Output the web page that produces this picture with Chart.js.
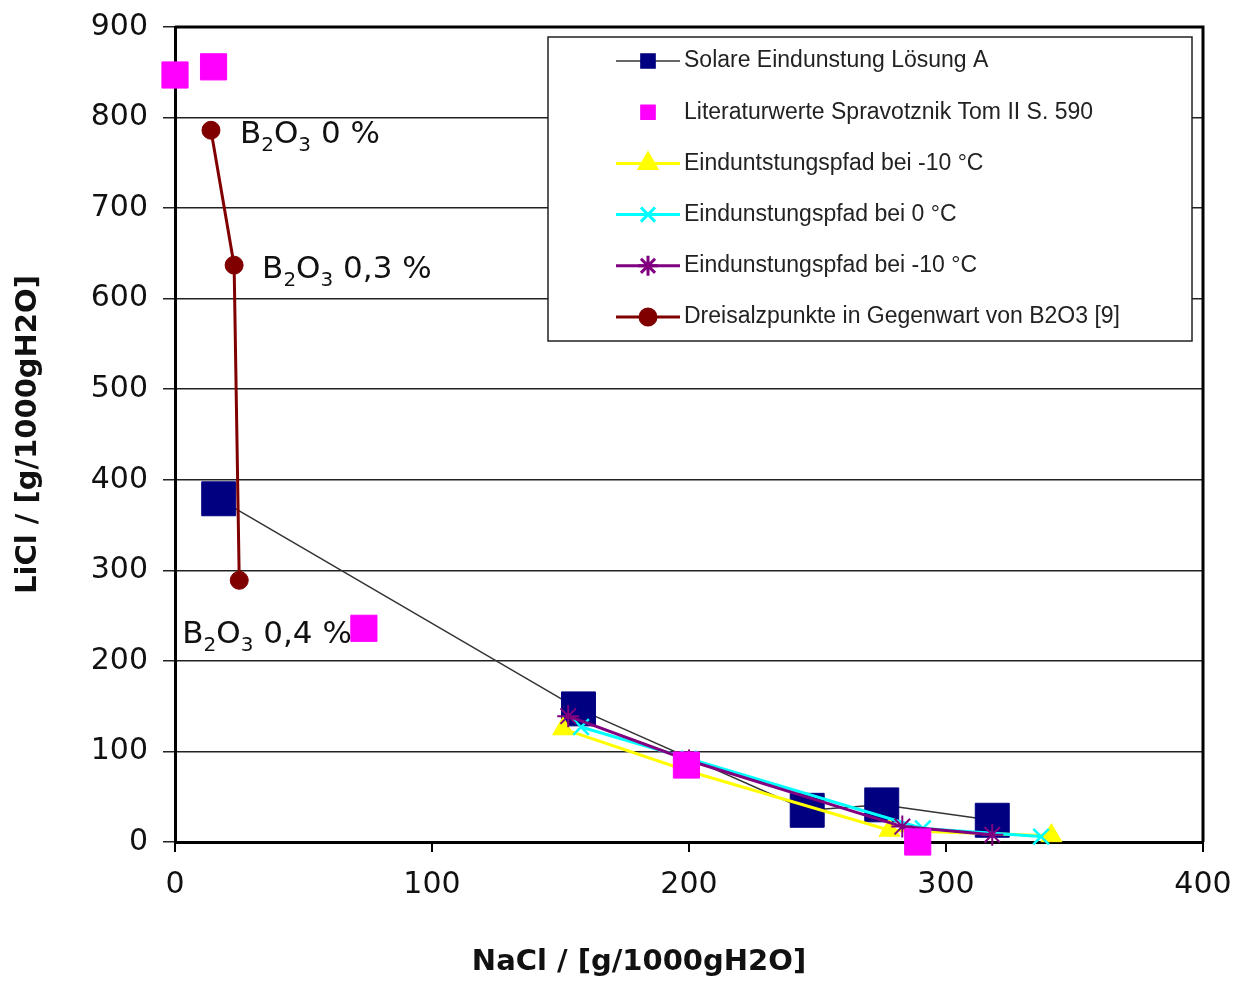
<!DOCTYPE html>
<html>
<head>
<meta charset="utf-8">
<script src="https://cdn.jsdelivr.net/npm/chart.js@4.4.0/dist/chart.umd.min.js"></script>
<style>
  html, body { margin: 0; padding: 0; background: #fff; }
  #wrap { width: 1248px; height: 983px; }
</style>
</head>
<body>
<div id="wrap"><canvas id="chart" width="1248" height="983"></canvas></div>
<script>
// values: NaCl (x) / LiCl (y), g per 1000 g H2O
const solareNaCl = [17, 157, 246, 275, 318];
const solareLiCl = [379, 147, 35, 41, 24];
const litNaCl = [0, 15, 73.5, 199, 289];
const litLiCl = [847, 856, 236, 85, 0];
const pfadMinus10aNaCl = [151, 199, 278, 341];
const pfadMinus10aLiCl = [125, 79, 13, 7];
const pfad0NaCl = [158, 200, 291, 337];
const pfad0LiCl = [127, 92, 15, 6];
const pfadMinus10bNaCl = [153, 200, 283, 318];
const pfadMinus10bLiCl = [139, 90, 17, 8];
const dreisalzNaCl = [14, 23, 25];
const dreisalzLiCl = [786, 637, 289];
const dreisalzLabels = ['0 %', '0,3 %', '0,4 %'];

const xTicks = [0, 100, 200, 300, 400];
const yTicks = [0, 100, 200, 300, 400, 500, 600, 700, 800, 900];
const xTitle = 'NaCl / [g/1000gH2O]';
const yTitle = 'LiCl / [g/1000gH2O]';

const toPoints = (xs, ys) => xs.map((v, i) => ({ x: v, y: ys[i] }));

const FONT = '"DejaVu Sans", sans-serif';

// frame on top and right of the plot area
const plotFrame = {
  id: 'plotFrame',
  beforeDatasetsDraw(chart) {
    const { ctx, chartArea: a } = chart;
    ctx.save();
    ctx.strokeStyle = '#000';
    ctx.lineWidth = 3;
    ctx.beginPath();
    ctx.moveTo(a.left, a.top);
    ctx.lineTo(a.right, a.top);
    ctx.lineTo(a.right, a.bottom);
    ctx.stroke();
    ctx.restore();
  },
};

// x axis title sits a little left of the plot centre in the original
const xTitlePlugin = {
  id: 'xTitlePlugin',
  afterDraw(chart) {
    const { ctx, chartArea: a } = chart;
    ctx.save();
    ctx.fillStyle = '#111';
    ctx.font = 'bold 29px ' + FONT;
    ctx.textAlign = 'center';
    ctx.textBaseline = 'middle';
    ctx.fillText(xTitle, (a.left + a.right) / 2 - 50, a.bottom + 120);
    ctx.restore();
  },
};

// B2O3 labels next to the Dreisalzpunkte
const b2o3Labels = {
  id: 'b2o3Labels',
  afterDatasetsDraw(chart) {
    const { ctx, scales: { x, y } } = chart;
    const offsets = [[29, 13], [28, 13], [-57, 63]];
    ctx.save();
    ctx.fillStyle = '#111';
    ctx.textBaseline = 'alphabetic';
    ctx.textAlign = 'left';
    dreisalzLabels.forEach((lab, i) => {
      let px = x.getPixelForValue(dreisalzNaCl[i]) + offsets[i][0];
      const py = y.getPixelForValue(dreisalzLiCl[i]) + offsets[i][1];
      const parts = [['B', false], ['2', true], ['O', false], ['3', true], [' ' + lab, false]];
      parts.forEach(([t, sub]) => {
        ctx.font = (sub ? 20 : 31) + 'px ' + FONT;
        ctx.fillText(t, px, py + (sub ? 8 : 0));
        px += ctx.measureText(t).width;
      });
    });
    ctx.restore();
  },
};

// legend box inside the plot, like the spreadsheet original
const legendBox = {
  id: 'legendBox',
  afterDraw(chart) {
    const { ctx, chartArea: a } = chart;
    const w = 644, h = 304;
    const x0 = a.right - 11 - w, y0 = a.top + 10;
    ctx.save();
    ctx.fillStyle = '#fff';
    ctx.fillRect(x0, y0, w, h);
    ctx.strokeStyle = '#222';
    ctx.lineWidth = 1.5;
    ctx.strokeRect(x0, y0, w, h);
    chart.data.datasets.forEach((ds, i) => {
      const cy = y0 + 24 + i * 51.2;
      const mx = x0 + 100;
      if (ds.showLine) {
        ctx.strokeStyle = ds.borderColor;
        ctx.lineWidth = ds.borderWidth;
        ctx.beginPath();
        ctx.moveTo(x0 + 68, cy);
        ctx.lineTo(x0 + 132, cy);
        ctx.stroke();
      }
      ctx.fillStyle = ds.pointBackgroundColor;
      ctx.strokeStyle = ds.pointBorderColor;
      Chart.helpers.drawPoint(ctx, {
        pointStyle: ds.pointStyle,
        radius: ds.legendRadius,
        borderWidth: ds.pointBorderWidth,
        rotation: 0,
      }, mx, cy);
      ctx.fillStyle = '#222';
      ctx.font = '23px "Liberation Sans", Arial, sans-serif';
      ctx.textBaseline = 'middle';
      ctx.fillText(ds.label, x0 + 136, cy);
    });
    ctx.restore();
  },
};

const ctx = document.getElementById('chart').getContext('2d');
new Chart(ctx, {
  type: 'scatter',
  data: {
    datasets: [
      {
        label: 'Solare Eindunstung Lösung A',
        data: toPoints(solareNaCl, solareLiCl),
        showLine: true,
        borderColor: '#333',
        borderWidth: 1.5,
        pointStyle: 'rect',
        pointRadius: 24,
        legendRadius: 10,
        pointBackgroundColor: '#000080',
        pointBorderColor: '#000080',
        pointBorderWidth: 1,
        order: 6,
      },
      {
        label: 'Literaturwerte Spravotznik Tom II S. 590',
        data: toPoints(litNaCl, litLiCl),
        showLine: false,
        borderColor: '#ff00ff',
        borderWidth: 0,
        pointStyle: 'rect',
        pointRadius: 18.5,
        legendRadius: 10,
        pointBackgroundColor: '#ff00ff',
        pointBorderColor: '#ff00ff',
        pointBorderWidth: 1,
        order: 1,
      },
      {
        label: 'Einduntstungspfad bei -10 °C',
        data: toPoints(pfadMinus10aNaCl, pfadMinus10aLiCl),
        showLine: true,
        borderColor: '#ffff00',
        borderWidth: 3,
        pointStyle: 'triangle',
        pointRadius: 12,
        legendRadius: 10,
        pointBackgroundColor: '#ffff00',
        pointBorderColor: '#ffff00',
        pointBorderWidth: 1,
        order: 5,
      },
      {
        label: 'Eindunstungspfad bei 0 °C',
        data: toPoints(pfad0NaCl, pfad0LiCl),
        showLine: true,
        borderColor: '#00ffff',
        borderWidth: 3,
        pointStyle: 'crossRot',
        pointRadius: 11,
        legendRadius: 10,
        pointBackgroundColor: '#00ffff',
        pointBorderColor: '#00ffff',
        pointBorderWidth: 2.5,
        order: 4,
      },
      {
        label: 'Eindunstungspfad bei -10 °C',
        data: toPoints(pfadMinus10bNaCl, pfadMinus10bLiCl),
        showLine: true,
        borderColor: '#800080',
        borderWidth: 3,
        pointStyle: 'star',
        pointRadius: 11,
        legendRadius: 10,
        pointBackgroundColor: '#800080',
        pointBorderColor: '#800080',
        pointBorderWidth: 2,
        order: 3,
      },
      {
        label: 'Dreisalzpunkte in Gegenwart von B2O3 [9]',
        data: toPoints(dreisalzNaCl, dreisalzLiCl),
        showLine: true,
        borderColor: '#800000',
        borderWidth: 3,
        pointStyle: 'circle',
        pointRadius: 9,
        legendRadius: 8,
        pointBackgroundColor: '#800000',
        pointBorderColor: '#800000',
        pointBorderWidth: 1,
        order: 2,
      },
    ],
  },
  options: {
    responsive: false,
    animation: false,
    devicePixelRatio: 1,
    clip: false,
    elements: { line: { tension: 0 } },
    layout: { padding: { top: 27, right: 45, left: 0, bottom: 0 } },
    plugins: {
      legend: { display: false },
      tooltip: { enabled: false },
      title: { display: false },
    },
    scales: {
      x: {
        type: 'linear',
        min: 0,
        max: 400,
        afterBuildTicks: scale => { scale.ticks = xTicks.map(v => ({ value: v })); },
        afterFit: scale => { scale.height = 141; scale.paddingLeft = 0; scale.paddingRight = 0; },
        grid: { drawOnChartArea: false, drawTicks: true, tickLength: 10, color: '#000', lineWidth: 2 },
        border: { display: true, color: '#000', width: 3 },
        ticks: { color: '#111', padding: 15, font: { family: FONT, size: 30 }, maxRotation: 0 },
      },
      y: {
        type: 'linear',
        min: 0,
        max: 900,
        afterBuildTicks: scale => { scale.ticks = yTicks.map(v => ({ value: v })); },
        afterFit: scale => { scale.width = 175; scale.paddingTop = 0; scale.paddingBottom = 0; },
        grid: { color: '#222', lineWidth: 1.5, tickLength: 12 },
        border: { display: true, color: '#000', width: 3 },
        ticks: { color: '#111', padding: 15, font: { family: FONT, size: 30 } },
        title: {
          display: true,
          text: yTitle,
          color: '#111',
          font: { family: FONT, size: 29, weight: 'bold' },
          padding: { top: 11, bottom: 0 },
        },
      },
    },
  },
  plugins: [plotFrame, b2o3Labels, legendBox, xTitlePlugin],
});
</script>
</body>
</html>
